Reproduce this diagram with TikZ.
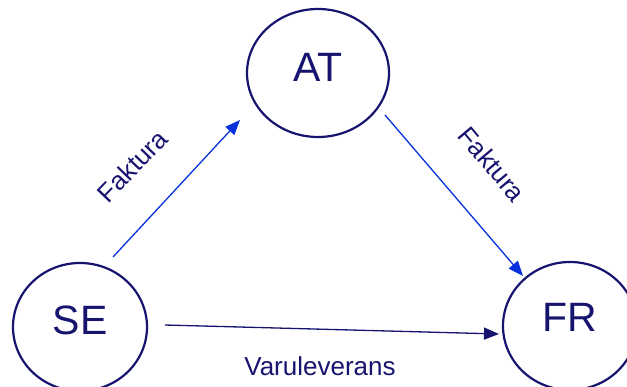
\documentclass[tikz,border=0pt]{standalone}
\usepackage{fontspec}
\setmainfont{Liberation Sans}
\usetikzlibrary{shapes.geometric,arrows.meta,calc}
\definecolor{navy}{RGB}{22,20,110}
\definecolor{arrblue}{RGB}{10,50,220}
\begin{document}
\begin{tikzpicture}[x=1pt,y=-1pt,
  country/.style={ellipse,draw=navy,line width=2.2pt,text=navy,
    font=\fontsize{41}{41}\selectfont,inner sep=0pt},
  lbl/.style={text=navy,font=\fontsize{26}{26}\selectfont,inner sep=0pt},
  barr/.style={draw=arrblue,line width=1.3pt,-{Triangle[length=15pt,width=12pt]},fill=arrblue},
  narr/.style={draw=navy,line width=1.3pt,-{Triangle[length=15pt,width=12pt]},fill=navy}]
\useasboundingbox (0,0) rectangle (627,387);
\node[country,minimum width=142pt,minimum height=128pt,text depth=12pt] (AT) at (318,73) {AT};
\node[country,minimum width=134pt,minimum height=128pt,text depth=14pt] (SE) at (80,327) {SE};
\node[country,minimum width=134pt,minimum height=128pt,text depth=18pt] (FR) at (570,326) {FR};
\draw[barr] ($(SE.center)+(33,-70)$) -- ($(AT.center)+(-78,47)$);
\draw[barr] ($(AT.center)+(67,42)$) -- ($(FR.center)+(-47,-50)$);
\draw[narr] ($(SE.center)+(85,-2)$) -- ($(FR.center)+(-71,8)$);
\node[lbl,rotate=46] (f1) at (132,166) {Faktura};
\node[lbl,rotate=-50] (f2) at (492,164) {Faktura};
\node[lbl,anchor=base] (v) at (320,376) {Varuleverans};
\end{tikzpicture}
\end{document}
